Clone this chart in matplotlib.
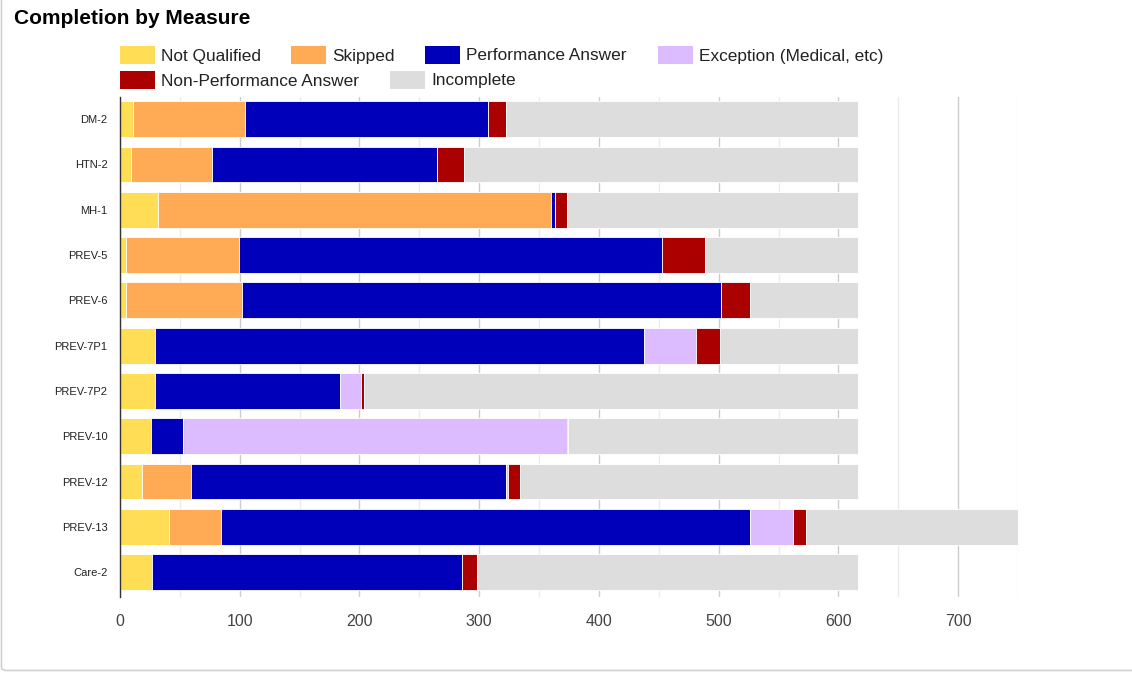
import matplotlib
matplotlib.use("Agg")
import matplotlib.pyplot as plt
from matplotlib.patches import Rectangle, FancyBboxPatch
import numpy as np

plt.rcParams['font.family'] = ['Liberation Sans', 'DejaVu Sans']

categories = ["DM-2", "HTN-2", "MH-1", "PREV-5", "PREV-6", "PREV-7P1", "PREV-7P2",
              "PREV-10", "PREV-12", "PREV-13", "Care-2"]
series_names = ["Not Qualified", "Skipped", "Performance Answer",
                "Exception (Medical, etc)", "Non-Performance Answer", "Incomplete"]
not_qualified = [11, 9, 32, 5, 5, 29, 29, 26, 18, 41, 27]
skipped = [93, 68, 328, 94, 97, 0, 0, 0, 41, 43, 0]
performance = [203, 188, 3, 354, 400, 409, 155, 27, 263, 442, 259]
exception = [0, 0, 0, 0, 0, 43, 17, 320, 2, 36, 0]
non_performance = [15, 22, 10, 36, 24, 20, 3, 1, 10, 11, 12]
incomplete = [294, 329, 243, 127, 90, 115, 412, 242, 282, 177, 318]
colors = ["#FFDD55", "#FFAA55", "#0000BB", "#DDBBFF", "#AA0000", "#DDDDDD"]
x_ticks = [0, 100, 200, 300, 400, 500, 600, 700]

W, H = 1132, 673
fig = plt.figure(figsize=(W / 100, H / 100), dpi=100)

# card border (top and right edges lie outside the image)
fig.patches.append(FancyBboxPatch((1.5 / W, 2.5 / H), (W + 20) / W, (H + 20) / H,
                                  boxstyle="round,pad=0,rounding_size=0.005",
                                  transform=fig.transFigure, facecolor="white",
                                  edgecolor="#d0d0d0", linewidth=1.2, zorder=-10))

ax = fig.add_axes([120 / W, 1 - 597 / H, (1018 - 120) / W, (597 - 97) / H])
ax.set_facecolor("none")

series = [not_qualified, skipped, performance, exception, non_performance, incomplete]
y = np.arange(len(categories))
left = np.zeros(len(categories))
for name, vals, c in zip(series_names, series, colors):
    vals = np.array(vals, dtype=float)
    ax.barh(y, vals, left=left, height=0.79, color=c, edgecolor="white",
            linewidth=0.6, label=name, zorder=3)
    left += vals

ax.set_xlim(0, 750)
ax.set_ylim(len(categories) - 1 + 0.55, -0.49)
ax.set_yticks(y)
ax.set_yticklabels(categories, fontsize=8, color="#222222")
ax.set_xticks(x_ticks)
ax.set_xticklabels([str(v) for v in x_ticks], fontsize=11.5, color="#444444")
ax.set_xticks(np.arange(50, 751, 100), minor=True)
ax.tick_params(axis="y", length=0, pad=9)
ax.tick_params(axis="x", which="both", length=0, pad=12)
ax.grid(axis="x", which="major", color="#cccccc", linewidth=1, zorder=0)
ax.grid(axis="x", which="minor", color="#ebebeb", linewidth=1, zorder=0)
for s in ["top", "right", "bottom"]:
    ax.spines[s].set_visible(False)
ax.spines["left"].set_color("#333333")
ax.spines["left"].set_linewidth(1)
ax.spines["left"].set_zorder(5)

# title
fig.text(14 / W, 1 - 18 / H, "Completion by Measure", fontsize=15, fontweight="bold",
         color="#000000", va="center", ha="left")

# legend (flowing layout)
legend_pos = [(120, 55), (291, 55), (425, 55), (658, 55), (120, 80), (390, 80)]
for (px, py), name, c in zip(legend_pos, series_names, colors):
    fig.patches.append(Rectangle((px / W, 1 - (py + 8.5) / H), 35 / W, 17 / H,
                                 transform=fig.transFigure, facecolor=c,
                                 edgecolor="none"))
    fig.text((px + 41) / W, 1 - (py + 1) / H, name, fontsize=12.4, color="#222222",
             va="center", ha="left")

fig.savefig("out.png", dpi=100)
